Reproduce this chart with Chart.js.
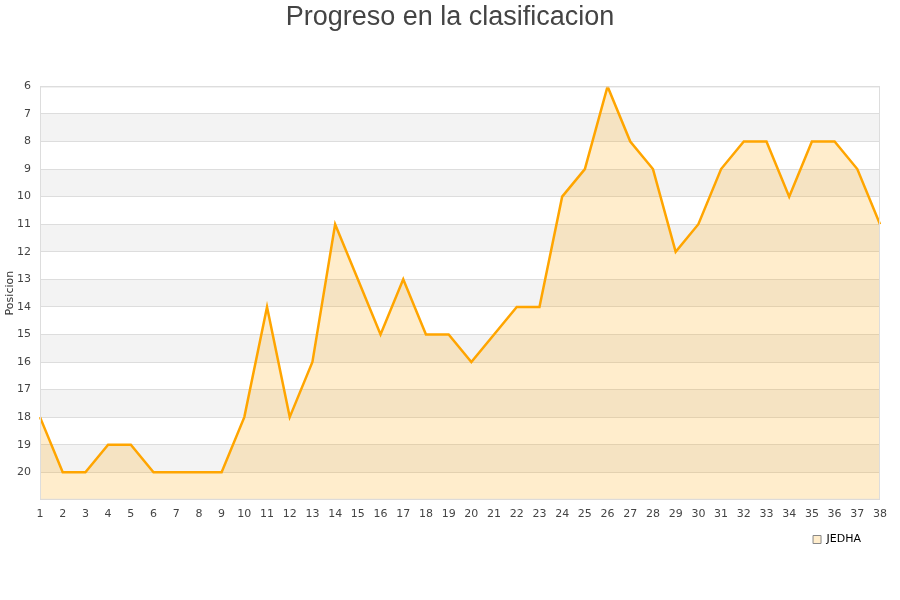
<!DOCTYPE html>
<html>
<head>
<meta charset="utf-8">
<title>Progreso en la clasificacion</title>
<script src="https://cdn.jsdelivr.net/npm/chart.js@4"></script>
<style>
    html, body { margin: 0; padding: 0; background: #fff; }
    #wrap { width: 900px; height: 600px; }
</style>
</head>
<body>
<div id="wrap"><canvas id="rank-chart"></canvas></div>
<script>
// Jornadas 1..38 and the team's position after each one
const jornadas = ['1', '2', '3', '4', '5', '6', '7', '8', '9', '10', '11', '12', '13', '14', '15', '16', '17', '18', '19',
    '20', '21', '22', '23', '24', '25', '26', '27', '28', '29', '30', '31', '32', '33', '34', '35', '36', '37', '38'];
const posiciones = [18, 20, 20, 19, 19, 20, 20, 20, 20, 18, 14, 18, 16, 11, 13, 15, 13, 15, 15,
    16, 15, 14, 14, 10, 9, 6, 8, 9, 12, 11, 9, 8, 8, 10, 8, 8, 9, 11];
const teamName = 'JEDHA';
const posMin = 6;
const posMax = 21;

// Alternating grey bands behind the grid, plus a frame round the plot area
const bandsPlugin = {
    id: 'bands',
    afterLayout(chart) {
        // nudge the legend a little away from the right edge
        if (chart.legend) {
            chart.legend.right -= 14;
        }
        // centre the title on the whole canvas, not on the padded area
        if (chart.titleBlock) {
            chart.titleBlock.left += 10;
            chart.titleBlock.right += 10;
        }
    },
    beforeDraw(chart) {
        const { ctx, chartArea, scales } = chart;
        const y = scales.y;
        ctx.save();
        ctx.fillStyle = '#f3f3f3';
        for (let v = posMin; v < posMax; v++) {
            if (v % 2 === 1) {
                const top = y.getPixelForValue(v);
                const bottom = y.getPixelForValue(v + 1);
                ctx.fillRect(chartArea.left, top, chartArea.right - chartArea.left, bottom - top);
            }
        }
        ctx.restore();
    },
    afterDraw(chart) {
        const { ctx, chartArea } = chart;
        ctx.save();
        ctx.strokeStyle = '#dddddd';
        ctx.lineWidth = 1;
        ctx.strokeRect(chartArea.left + 0.5, chartArea.top + 0.5,
            chartArea.right - chartArea.left - 1, chartArea.bottom - chartArea.top - 1);
        ctx.restore();
    }
};

const ctx = document.getElementById('rank-chart').getContext('2d');

window.rankChart = new Chart(ctx, {
    type: 'line',
    data: {
        labels: jornadas,
        datasets: [{
            label: teamName,
            data: posiciones,
            borderColor: '#ffa500',
            backgroundColor: 'rgba(255, 165, 0, 0.2)',
            borderWidth: 2.5,
            pointRadius: 0,
            tension: 0,
            fill: { value: posMax }
        }]
    },
    options: {
        responsive: true,
        maintainAspectRatio: false,
        animation: false,
        layout: {
            padding: { left: 0, right: 20, top: 0, bottom: 45 }
        },
        scales: {
            x: {
                offset: false,
                grid: { display: false, drawTicks: false },
                border: { display: false },
                ticks: {
                    autoSkip: false,
                    maxRotation: 0,
                    padding: 8,
                    color: '#444',
                    font: { family: 'DejaVu Sans', size: 11 }
                }
            },
            y: {
                reverse: true,
                min: posMin,
                max: posMax,
                afterFit(scale) {
                    scale.width = 40;
                },
                grid: {
                    color: '#dddddd',
                    drawTicks: false
                },
                border: { display: false },
                ticks: {
                    stepSize: 1,
                    padding: 9,
                    color: '#444',
                    font: { family: 'DejaVu Sans', size: 11 },
                    callback: (value) => value === posMax ? '' : value
                },
                title: {
                    display: true,
                    text: 'Posicion',
                    color: '#333',
                    padding: { top: 4, bottom: 0 },
                    font: { family: 'DejaVu Sans', size: 11 }
                }
            }
        },
        plugins: {
            title: {
                display: true,
                text: 'Progreso en la clasificacion',
                color: '#444',
                padding: { top: 1, bottom: 53 },
                font: { family: 'Liberation Sans', size: 27, weight: 'normal' }
            },
            legend: {
                position: 'bottom',
                align: 'end',
                labels: {
                    boxWidth: 8,
                    boxHeight: 8,
                    padding: 5,
                    color: '#000',
                    font: { family: 'DejaVu Sans', size: 11 },
                    generateLabels: (chart) => [{
                        text: teamName,
                        fillStyle: '#ffedcc',
                        strokeStyle: '#888888',
                        lineWidth: 1,
                        datasetIndex: 0
                    }]
                }
            },
            tooltip: { enabled: false }
        }
    },
    plugins: [bandsPlugin]
});
</script>
</body>
</html>
